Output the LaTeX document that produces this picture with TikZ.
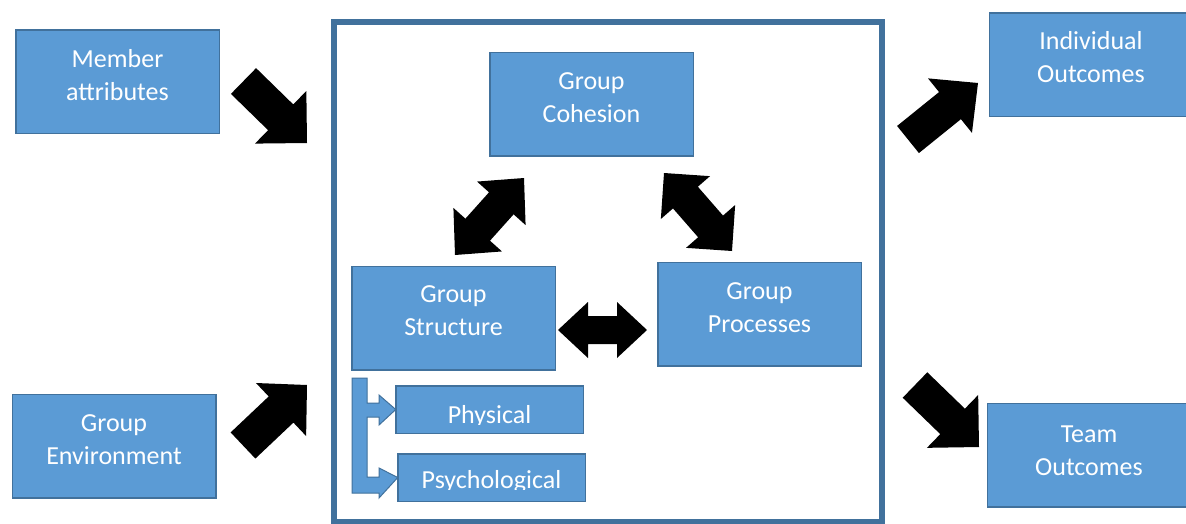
\documentclass[tikz,border=0pt]{standalone}
\usepackage{fontspec}
\setmainfont{Carlito}
\usetikzlibrary{calc}
\definecolor{boxfill}{HTML}{5B9BD5}
\definecolor{boxline}{HTML}{41719C}
% single block arrow: tail, tip, shaft half width, head half width, head length
\newcommand\blockarrow[5]{%
  \coordinate (bh) at ($(#2)!#5!(#1)$);
  \fill[blockarrowstyle] ($(#1)!#3!90:(#2)$) -- ($(bh)!#3!90:(#2)$) -- ($(bh)!#4!90:(#2)$) -- (#2)
    -- ($(bh)!#4!-90:(#2)$) -- ($(bh)!#3!-90:(#2)$) -- ($(#1)!#3!-90:(#2)$) -- cycle;}
% double block arrow: tip1, tip2, shaft half width, head half width, head length
\newcommand\dblarrow[5]{%
  \coordinate (dh1) at ($(#1)!#5!(#2)$);
  \coordinate (dh2) at ($(#2)!#5!(#1)$);
  \fill[blockarrowstyle] (#1) -- ($(dh1)!#4!90:(#2)$) -- ($(dh1)!#3!90:(#2)$) -- ($(dh2)!#3!-90:(#1)$)
    -- ($(dh2)!#4!-90:(#1)$) -- (#2) -- ($(dh2)!#4!90:(#1)$) -- ($(dh2)!#3!90:(#1)$)
    -- ($(dh1)!#3!-90:(#2)$) -- ($(dh1)!#4!-90:(#2)$) -- cycle;}
\begin{document}
\begin{tikzpicture}[x=1pt,y=-1pt,
  box/.style={draw=boxline,line width=1.5pt,fill=boxfill,inner sep=0pt,outer sep=0pt,
    minimum width=203.5pt,minimum height=103.5pt},
  smallbox/.style={box,minimum width=187.5pt,minimum height=47.5pt},
  txt/.style={text=white,font=\fontsize{26}{33}\selectfont,align=center,inner sep=0pt,anchor=base},
  frame/.style={draw=boxline,line width=5.5pt},
  blockarrowstyle/.style={fill=black},
  bracketarrow/.style={fill=boxfill,draw=boxline,line width=1pt,line join=miter}]
\useasboundingbox (0,0) rectangle (1186,523);
\fill[white] (0,0) rectangle (1186,523);

% outer frame
\draw[frame] (334,22) rectangle (882,522);

% boxes (text anchored at the baseline of its last line)
\node[box] (ma) at (117.5,81.5) {};
\node[txt] (mat) at (117.5,100) {Member\\attributes};
\node[box] (ge) at (114,446) {};
\node[txt] (get) at (114,464) {Group\\Environment};
\node[box] (coh) at (591.5,104) {};
\node[txt] (coht) at (591.5,122) {Group\\Cohesion};
\node[box] (str) at (453.5,318) {};
\node[txt] (strt) at (453.5,335) {Group\\Structure};
\node[box] (pro) at (759.5,314) {};
\node[txt] (prot) at (759.5,332) {Group\\Processes};
\node[box] (ind) at (1091,64.5) {};
\node[txt] (indt) at (1091,82) {Individual\\Outcomes};
\node[box] (team) at (1089,455) {};
\node[txt] (teamt) at (1089,475) {Team\\Outcomes};

\node[smallbox] (phy) at (489.5,409.5) {};
\begin{scope}
\clip (395,385) rectangle (584,424);
\node[txt] (phyt) at (489.5,423.5) {Physical};
\end{scope}
\node[smallbox] (psy) at (491.5,477.5) {};
\begin{scope}
\clip (397,453) rectangle (586,489);
\node[txt] (psyt) at (491.5,488.5) {Psychological};
\end{scope}

% bracket arrow to Physical / Psychological
\draw[bracketarrow] (352,378) -- (367,378) -- (367,403) -- (379,403) -- (379,395) -- (phy.west)
  -- (379,425) -- (379,417) -- (367,417) -- (367,477) -- (379,477) -- (379,468) -- (psy.west)
  -- (379,498) -- (379,493) -- (352,493) -- cycle;

% arrow end points
\coordinate (a1s) at (243.5,81);  \coordinate (a1e) at (307,143);
\coordinate (a2s) at (243,445.5); \coordinate (a2e) at (307,385);
\coordinate (a3s) at (908,139.5); \coordinate (a3e) at (978,83);
\coordinate (a4s) at (915,385);   \coordinate (a4e) at (979,447);
\coordinate (d5a) at (524,178);   \coordinate (d5b) at (455,255);
\coordinate (d6a) at (664,173);   \coordinate (d6b) at (732,251);
\coordinate (d7a) at (558,330);   \coordinate (d7b) at (647,330);

\blockarrow{a1s}{a1e}{18pt}{36.75pt}{36.8pt}
\blockarrow{a2s}{a2e}{18pt}{36.5pt}{35.7pt}
\blockarrow{a3s}{a3e}{17.4pt}{35pt}{36pt}
\blockarrow{a4s}{a4e}{17.7pt}{36.8pt}{36.8pt}
\dblarrow{d5a}{d5b}{16.5pt}{32.6pt}{34pt}
\dblarrow{d6a}{d6b}{16.5pt}{32.6pt}{32.6pt}
\dblarrow{d7a}{d7b}{14pt}{28pt}{30pt}
\end{tikzpicture}
\end{document}
